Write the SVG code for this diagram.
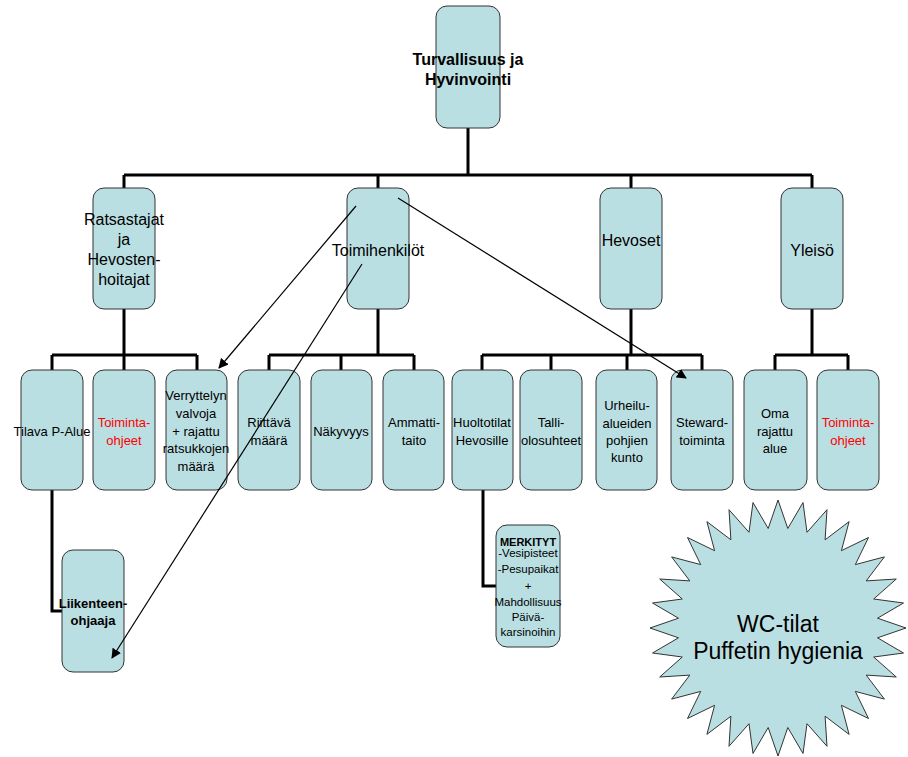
<svg xmlns="http://www.w3.org/2000/svg" width="908" height="757" viewBox="0 0 908 757">
<defs>
<style>
.box{fill:#BADFE3;stroke:#333;stroke-width:1}
.t{font-family:"Liberation Sans",Arial,sans-serif;fill:#000;text-anchor:middle}
.t16{font-size:16px}
.t13{font-size:13px}
.red{fill:#FF0000}
.b{font-weight:bold}
.conn{fill:none;stroke:#000;stroke-width:3}
.arr{fill:none;stroke:#000;stroke-width:1.2;marker-end:url(#ah)}
</style>
<marker id="ah" viewBox="0 0 10 10" refX="9" refY="5" markerWidth="10" markerHeight="10" markerUnits="userSpaceOnUse" orient="auto">
<path d="M0,0 L10,5 L0,10 z" fill="#000"/>
</marker>
</defs>
<rect width="908" height="757" fill="#fff"/>
<g id="connectors">
<path class="conn" d="M468,128 V175 M124,175 H812 M124,175 V188 M378,175 V188 M631,175 V188 M812,175 V188"/>
<path class="conn" d="M124,309 V355 M52,355 H197 M52,355 V370 M124,355 V370 M197,355 V370"/>
<path class="conn" d="M378,309 V355 M269,355 H414 M269,355 V370 M341,355 V370 M414,355 V370"/>
<path class="conn" d="M631,309 V355 M482,355 H702 M482,355 V370 M551,355 V370 M627,355 V370 M702,355 V370"/>
<path class="conn" d="M812,309 V355 M775,355 H848 M775,355 V370 M848,355 V370"/>
<path class="conn" d="M52,490 V611 H62"/>
<path class="conn" d="M483,490 V586 H496"/>
</g>
<g id="n-top"><rect class="box" x="436" y="6" width="64" height="122" rx="11"/>
<text class="t b t16" x="468" y="65">Turvallisuus ja</text><text class="t b t16" x="468" y="85">Hyvinvointi</text></g>
<g id="n-ratsastajat"><rect class="box" x="93" y="188" width="62" height="121" rx="11"/>
<text class="t t16" x="124" y="225">Ratsastajat</text><text class="t t16" x="124" y="245">ja</text><text class="t t16" x="124" y="265">Hevosten-</text><text class="t t16" x="124" y="285">hoitajat</text></g>
<g id="n-toimihenkilot"><rect class="box" x="347" y="188" width="62" height="121" rx="11"/>
<text class="t t16" x="378" y="256">Toimihenkilöt</text></g>
<g id="n-hevoset"><rect class="box" x="600" y="188" width="62" height="121" rx="11"/>
<text class="t t16" x="631" y="246">Hevoset</text></g>
<g id="n-yleiso"><rect class="box" x="781" y="188" width="62" height="121" rx="11"/>
<text class="t t16" x="812" y="256">Yleisö</text></g>
<g id="n-tilava"><rect class="box" x="21" y="370" width="62" height="120" rx="11"/>
<text class="t t13" x="52" y="436">Tilava P-Alue</text></g>
<g id="n-toiminta1"><rect class="box" x="93" y="370" width="62" height="120" rx="11"/>
<text class="t t13 red" x="124" y="427">Toiminta-</text><text class="t t13 red" x="124" y="445">ohjeet</text></g>
<g id="n-verryttely"><rect class="box" x="166" y="370" width="61" height="120" rx="11"/>
<text class="t t13" x="196" y="400">Verryttelyn</text><text class="t t13" x="196" y="418">valvoja</text><text class="t t13" x="196" y="436">+ rajattu</text><text class="t t13" x="196" y="453">ratsukkojen</text><text class="t t13" x="196" y="471">määrä</text></g>
<g id="n-riittava"><rect class="box" x="238" y="370" width="62" height="120" rx="11"/>
<text class="t t13" x="269" y="427">Riittävä</text><text class="t t13" x="269" y="445">määrä</text></g>
<g id="n-nakyvyys"><rect class="box" x="311" y="370" width="61" height="120" rx="11"/>
<text class="t t13" x="341" y="436">Näkyvyys</text></g>
<g id="n-ammatti"><rect class="box" x="383" y="370" width="61" height="120" rx="11"/>
<text class="t t13" x="414" y="427">Ammatti-</text><text class="t t13" x="414" y="445">taito</text></g>
<g id="n-huoltotilat"><rect class="box" x="452" y="370" width="61" height="120" rx="11"/>
<text class="t t13" x="482" y="427">Huoltotilat</text><text class="t t13" x="482" y="445">Hevosille</text></g>
<g id="n-talli"><rect class="box" x="520" y="370" width="62" height="120" rx="11"/>
<text class="t t13" x="551" y="427">Talli-</text><text class="t t13" x="551" y="445">olosuhteet</text></g>
<g id="n-urheilu"><rect class="box" x="596" y="370" width="61" height="120" rx="11"/>
<text class="t t13" x="627" y="410">Urheilu-</text><text class="t t13" x="627" y="428">alueiden</text><text class="t t13" x="627" y="445">pohjien</text><text class="t t13" x="627" y="462">kunto</text></g>
<g id="n-steward"><rect class="box" x="671" y="370" width="62" height="120" rx="11"/>
<text class="t t13" x="702" y="427">Steward-</text><text class="t t13" x="702" y="445">toiminta</text></g>
<g id="n-oma"><rect class="box" x="744" y="370" width="63" height="120" rx="11"/>
<text class="t t13" x="775" y="418">Oma</text><text class="t t13" x="775" y="436">rajattu</text><text class="t t13" x="775" y="453">alue</text></g>
<g id="n-toiminta2"><rect class="box" x="817" y="370" width="62" height="120" rx="11"/>
<text class="t t13 red" x="848" y="427">Toiminta-</text><text class="t t13 red" x="848" y="445">ohjeet</text></g>
<g id="n-liikenne"><rect class="box" x="62" y="550" width="62" height="122" rx="11"/>
<text class="t t13 b" x="93" y="608">Liikenteen-</text><text class="t t13 b" x="93" y="625">ohjaaja</text></g>
<g id="n-merkityt"><rect class="box" x="496" y="525" width="64" height="122" rx="11"/>
<text class="t b" style="font-size:11px" x="528" y="546">MERKITYT</text>
<text class="t" style="font-size:11.5px" x="528" y="557">-Vesipisteet</text>
<text class="t" style="font-size:11.5px" x="528" y="573">-Pesupaikat</text>
<text class="t" style="font-size:11.5px" x="528" y="590">+</text>
<text class="t" style="font-size:11.5px" x="528" y="606">Mahdollisuus</text>
<text class="t" style="font-size:11.5px" x="528" y="621">Päivä-</text>
<text class="t" style="font-size:11.5px" x="528" y="636">karsinoihin</text></g>
<g id="n-wc">
<polygon class="box" points="778,500 787.8,528.5 803,502.5 807,532.3 827,509.7 825.1,539.8 849.1,521.6 841.4,550.7 868.5,537.5 855.3,564.6 884.4,556.9 866.2,580.9 896.3,579 873.7,599 903.5,603 877.5,618.2 906,628 877.5,637.8 903.5,653 873.7,657 896.3,677 866.2,675.1 884.4,699.1 855.3,691.4 868.5,718.5 841.4,705.3 849.1,734.4 825.1,716.2 827,746.3 807,723.7 803,753.5 787.8,727.5 778,756 768.2,727.5 753,753.5 749,723.7 729,746.3 730.9,716.2 706.9,734.4 714.6,705.3 687.5,718.5 700.7,691.4 671.6,699.1 689.8,675.1 659.7,677 682.3,657 652.5,653 678.5,637.8 650,628 678.5,618.2 652.5,603 682.3,599 659.7,579 689.8,580.9 671.6,556.9 700.7,564.6 687.5,537.5 714.6,550.7 706.9,521.6 730.9,539.8 729,509.7 749,532.3 753,502.5 768.2,528.5"/>
<text class="t" style="font-size:23px" x="778" y="632">WC-tilat</text>
<text class="t" style="font-size:23px" x="778" y="659">Puffetin hygienia</text></g>
<g id="arrows">
<line class="arr" x1="356" y1="206" x2="219" y2="368"/>
<line class="arr" x1="362" y1="264" x2="112" y2="658"/>
<line class="arr" x1="398" y1="198" x2="686" y2="378"/>
</g>
</svg>
